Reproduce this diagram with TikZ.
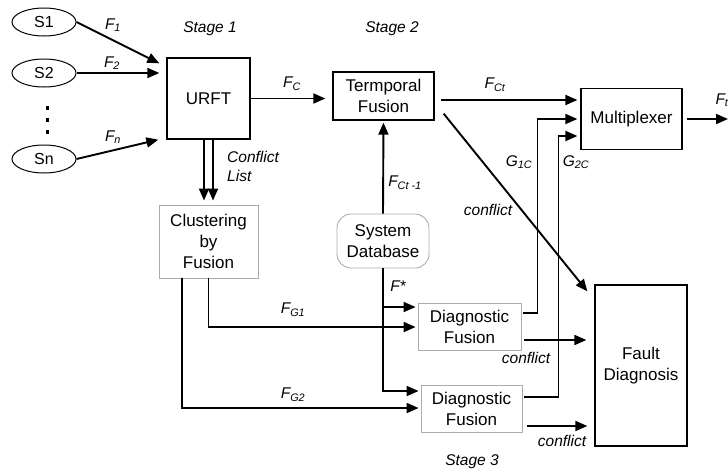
\documentclass[tikz,border=0pt]{standalone}
\usepackage{fontspec}
\setmainfont{Liberation Sans}
\usetikzlibrary{arrows.meta,calc,shapes.geometric}
\begin{document}
\begin{tikzpicture}[x=1pt,y=-1pt,
  box/.style={draw,line width=1.3pt,align=center,inner sep=0pt,font=\fontsize{17}{21}\selectfont},
  gbox/.style={box,draw=gray!65,line width=0.9pt},
  src/.style={ellipse,draw,line width=1pt,minimum width=64pt,minimum height=28pt,inner sep=0pt,font=\fontsize{16}{19}\selectfont},
  arr/.style={line width=1.9pt,-{Triangle[length=12pt,width=10pt]}},
  lbl/.style={font=\fontsize{15.5}{19}\selectfont\itshape,inner sep=0pt,align=left},
]
\useasboundingbox (0,0) rectangle (728,472);

% sources
\node[src] (s1) at (44,22) {S1};
\node[src] (s2) at (44,73) {S2};
\node[src] (sn) at (44,159) {Sn};
\foreach \yy in {108,120,132} \fill (45.5,\yy-2) rectangle (48.5,\yy+2);

% boxes
\node[box,minimum width=83pt,minimum height=81pt] (urft) at (208.5,98.5) {URFT};
\node[box,minimum width=101pt,minimum height=48pt] (tf) at (383.5,96) {Termporal\\Fusion};
\node[box,minimum width=101pt,minimum height=61pt] (mux) at (631.5,119) {Multiplexer};
\node[gbox,minimum width=99pt,minimum height=73pt] (cbf) at (208.5,241.5) {Clustering\\by\\Fusion};
\node[gbox,rounded corners=14pt,minimum width=92pt,minimum height=54pt] (sd) at (383,241) {System\\Database};
\node[gbox,minimum width=103pt,minimum height=47pt] (df1) at (469.5,327) {Diagnostic\\Fusion};
\node[gbox,minimum width=101pt,minimum height=47pt] (df2) at (471.5,409) {Diagnostic\\Fusion};
\node[box,minimum width=92pt,minimum height=161pt] (fd) at (641,365.5) {Fault\\Diagnosis};

% stage labels
\node[lbl] (st1) at (210,29) {Stage 1};
\node[lbl] (st2) at (392,29) {Stage 2};
\node[lbl] (st3) at (472,462) {Stage 3};

% sources to URFT
\draw[arr] (s1.east) -- ([xshift=-7pt,yshift=-6pt]urft.north west);
\draw[arr] (s2.east) -- ([xshift=-7pt]s2.east -| urft.west);
\draw[arr] (sn.east) -- ([xshift=-8pt]urft.south west);
\node[lbl] (lf1) at (113,25) {F\textsubscript{1}};
\node[lbl] (lf2) at (112,63) {F\textsubscript{2}};
\node[lbl] (lfn) at (113,137) {F\textsubscript{n}};

% URFT to temporal fusion
\draw[arr] (urft.east) -- ([xshift=-7pt]urft.east -| tf.west);
\node[lbl] (lfc) at (292,84) {F\textsubscript{C}};

% temporal fusion to multiplexer
\coordinate (fct) at ($(tf.east)+(6,4)$);
\draw[arr,shorten >=3pt] (fct) -- (fct -| mux.west);
\node[lbl] (lfct) at (495,85) {F\textsubscript{Ct}};

% output
\coordinate (out) at (728,119);
\draw[arr] ([xshift=4pt]mux.east) -- (out);
\node[lbl] (lft) at (722,100) {F\textsubscript{t}};

% diagnostic fusion outputs to multiplexer
\coordinate (g1s) at ($(df1.east)+(2,-14)$);
\draw[arr,shorten >=3pt] (g1s) -- ++(14,0) |- (mux.west);
\coordinate (g2s) at ($(df2.east)+(2,-12)$);
\coordinate (g2t) at ($(mux.west)+(0,17)$);
\draw[arr,shorten >=3pt] (g2s) -- ++(34,0) |- (g2t);
\node[lbl] (lg1) at (519,162) {G\textsubscript{1C}};
\node[lbl] (lg2) at (576,162) {G\textsubscript{2C}};

% conflict from temporal fusion
\draw[arr] ($(tf.south east)+(9,-7)$) -- ($(fd.north west)+(-7,7)$);
\node[lbl] (lc0) at (488,210) {conflict};

% conflict from diagnostic fusions
\coordinate (c1s) at ($(df1.east)+(3,13)$);
\draw[arr,shorten >=8pt] (c1s) -- (c1s -| fd.west);
\node[lbl] (lc1) at (526,358) {conflict};
\coordinate (c2s) at ($(df2.east)+(5,17)$);
\draw[arr,shorten >=7pt] (c2s) -- (c2s -| fd.west);
\node[lbl] (lc2) at (562,441) {conflict};

% URFT to clustering (double arrow)
\draw[arr] ([xshift=-4.5pt]urft.south) -- ([xshift=-4.5pt,yshift=4pt]cbf.north);
\draw[arr] ([xshift=4.5pt]urft.south) -- ([xshift=4.5pt,yshift=4pt]cbf.north);
\node[lbl,anchor=west] (lcl) at (227,166) {Conflict\\List};

% system database to temporal fusion
\draw[arr,shorten >=2pt] (sd.north) -- (tf.south);
\node[lbl] (lfct1) at (405,183) {F\textsubscript{Ct -1}};

% system database to diagnostic fusions
\coordinate (d1a) at ($(df1.west)+(0,-20)$);
\coordinate (d2a) at ($(df2.west)+(0,-18)$);
\draw[arr,shorten >=2pt] (sd.south) |- (d2a);
\draw[arr,shorten >=2pt] (d1a -| sd.south) -- (d1a);
\node[lbl] (lfs) at (398,286) {F*};

% clustering to diagnostic fusions
\draw[arr,shorten >=2pt] (cbf.south) |- (df1.west);
\coordinate (cb2) at ($(cbf.south)+(-26.5,0)$);
\coordinate (d2b) at ($(df2.west)+(0,-1)$);
\draw[arr,shorten >=2pt] (cb2) |- (d2b);
\node[lbl] (lfg1) at (293,310) {F\textsubscript{G1}};
\node[lbl] (lfg2) at (293,395) {F\textsubscript{G2}};
\end{tikzpicture}
\end{document}
